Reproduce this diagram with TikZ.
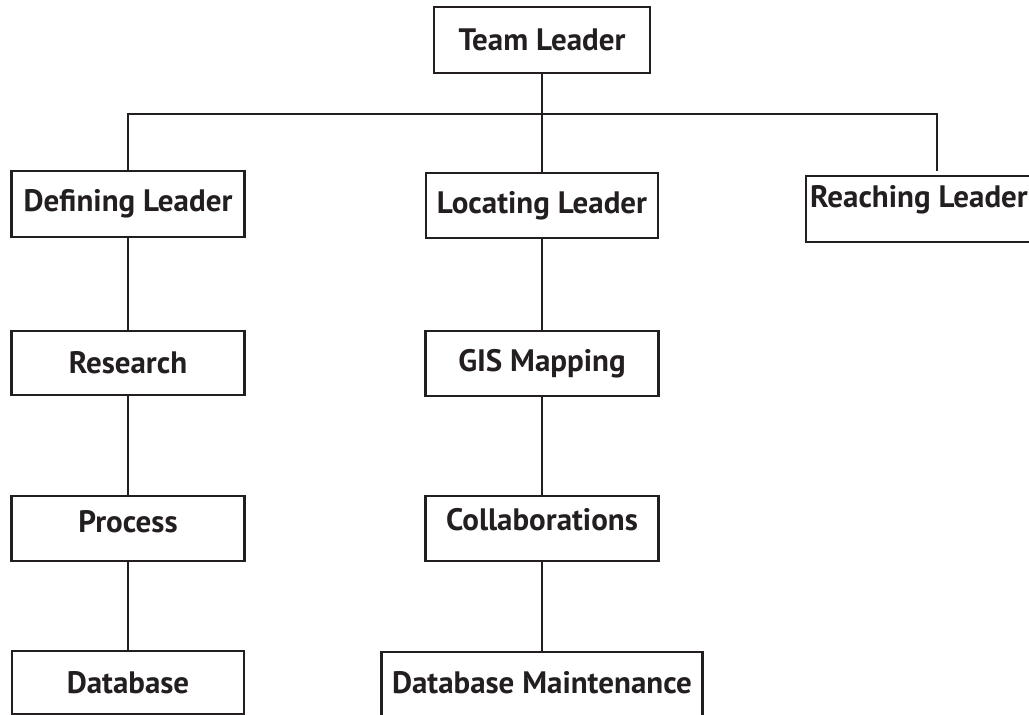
\documentclass[tikz,border=0pt]{standalone}
\usepackage{fontspec}
\setmainfont{PT Sans}
\usepackage{tikz}
\usetikzlibrary{positioning}
\definecolor{ink}{HTML}{231F20}

\begin{document}
\begin{tikzpicture}[x=1pt,y=-1pt, line width=2.3pt, draw=ink,
    every node/.style={font=\fontsize{31}{34}\selectfont\bfseries, text=ink},
    box/.style={draw=ink, minimum width=233pt, minimum height=65pt, inner sep=0pt}]
  \useasboundingbox (0,0) rectangle (1029,715);
  % top of the tree
  \node[box,minimum width=216pt,minimum height=66pt] (team) at (542,40) {Team Leader};
  \node[box,minimum height=66pt] (def) at (128,204) {Defining Leader};
  \node[box,minimum width=232pt] (loc) at (542,205.5) {Locating Leader};
  \node[box,minimum width=226pt,minimum height=66pt] (reach) at (919,209) {\raisebox{26pt}{Reaching Leader}};
  % left column
  \node[box,minimum height=64pt] (res) at (128,363) {Research};
  \node[box] (proc) at (128,528.5) {\raisebox{14pt}{Process}};
  \node[box,minimum width=232pt,minimum height=63pt] (db) at (128,682.5) {Database};
  % middle column
  \node[box] (gis) at (542,363.5) {GIS Mapping};
  \node[box] (coll) at (542,528.5) {\raisebox{18pt}{Collaborations}};
  \node[box,minimum width=321pt,minimum height=72pt] (dbm) at (542,688) {\raisebox{12pt}{Database Maintenance}};
  \coordinate (rj) at (937,171);
  \draw (team) -- (loc) -- (gis) -- (coll) -- (dbm);
  \draw (def.north) -- ++(0,-56) -| (rj);
  \draw (def) -- (res) -- (proc) -- (db);
\end{tikzpicture}
\end{document}
